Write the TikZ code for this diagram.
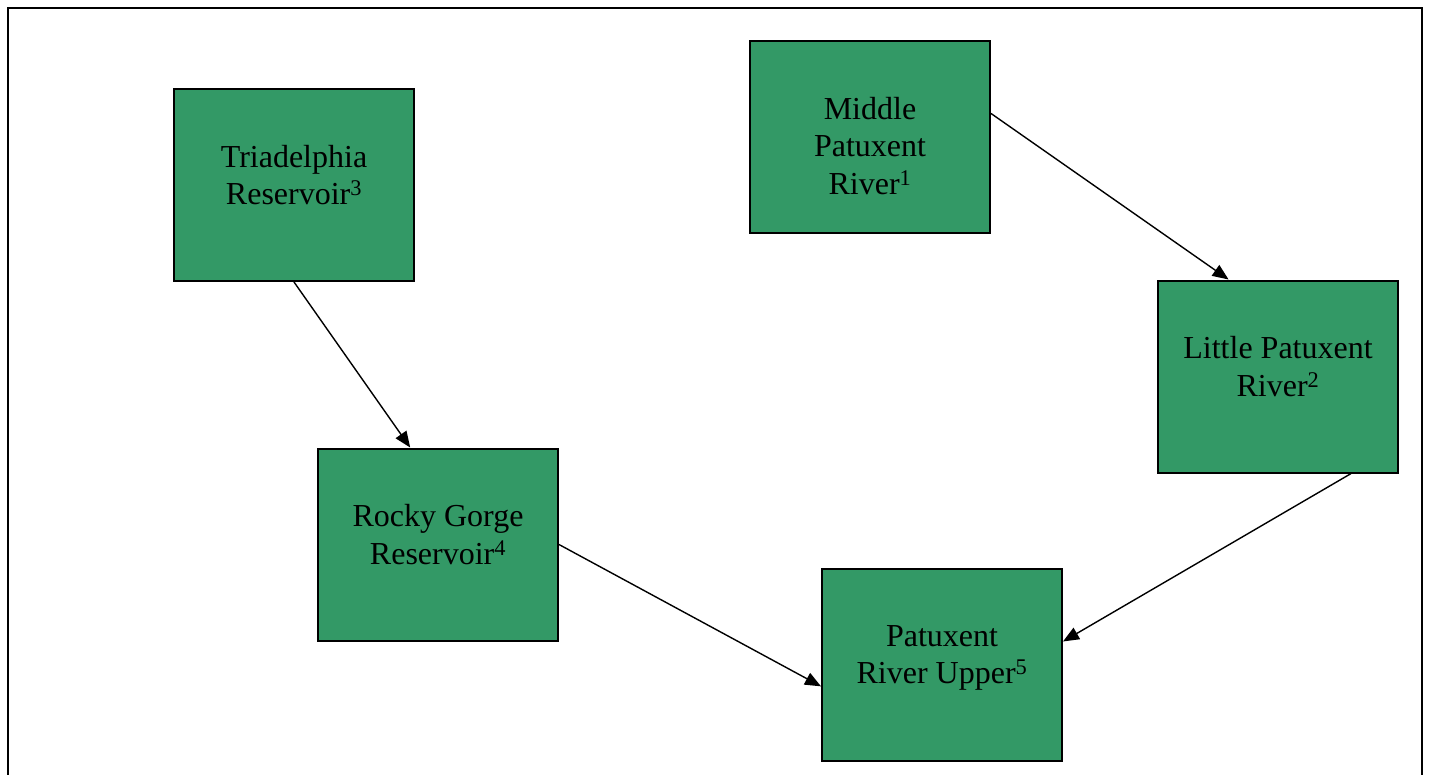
\documentclass[tikz,border=0pt]{standalone}
\usepackage{fontspec}
\setmainfont{Liberation Serif}
\definecolor{rivergreen}{RGB}{51, 153, 102}
\usetikzlibrary{arrows.meta, positioning}

\begin{document}
\begin{tikzpicture}[x=1pt, y=-1pt,
    riverbox/.style={draw=black, fill=rivergreen, line width=2pt, minimum width=240pt, minimum height=192pt, inner sep=0pt},
    rivertext/.style={font=\fontsize{32}{37.5}\selectfont, align=center, inner sep=0pt, anchor=north},
    flow/.style={-{Triangle[length=16pt, width=13pt]}, line width=1.4pt}]
  \useasboundingbox (0,0) rectangle (1429,774);

  % Frame
  \draw[line width=2pt] (7.5,800) -- (7.5,7.5) -- (1422,7.5) -- (1422,800);

  % Boxes
  \node[riverbox] (tri) at (294,185) {};
  \node[rivertext, below=57pt of tri.north] (trilbl) {Triadelphia\\Reservoir\textsuperscript{3}};

  \node[riverbox] (mid) at (870,137) {};
  \node[rivertext, below=57pt of mid.north] (midlbl) {Middle\\Patuxent\\River\textsuperscript{1}};

  \node[riverbox] (lit) at (1278,376.5) {};
  \node[rivertext, below=57pt of lit.north] (litlbl) {Little Patuxent\\River\textsuperscript{2}};

  \node[riverbox] (rocky) at (438,544.5) {};
  \node[rivertext, below=57pt of rocky.north] (rockylbl) {Rocky Gorge\\Reservoir\textsuperscript{4}};

  \node[riverbox] (upper) at (942,665) {};
  \node[rivertext, below=57pt of upper.north] (upperlbl) {Patuxent\\River Upper\textsuperscript{5}};

  % Flows
  \draw[flow] (mid.11.3) -- (lit.117.6);
  \draw[flow] (tri.south) -- (rocky.106.3);
  \draw[flow] (rocky.east) -- (upper.190.85);
  \draw[flow] (lit.-53) -- (upper.11.8);
\end{tikzpicture}
\end{document}
